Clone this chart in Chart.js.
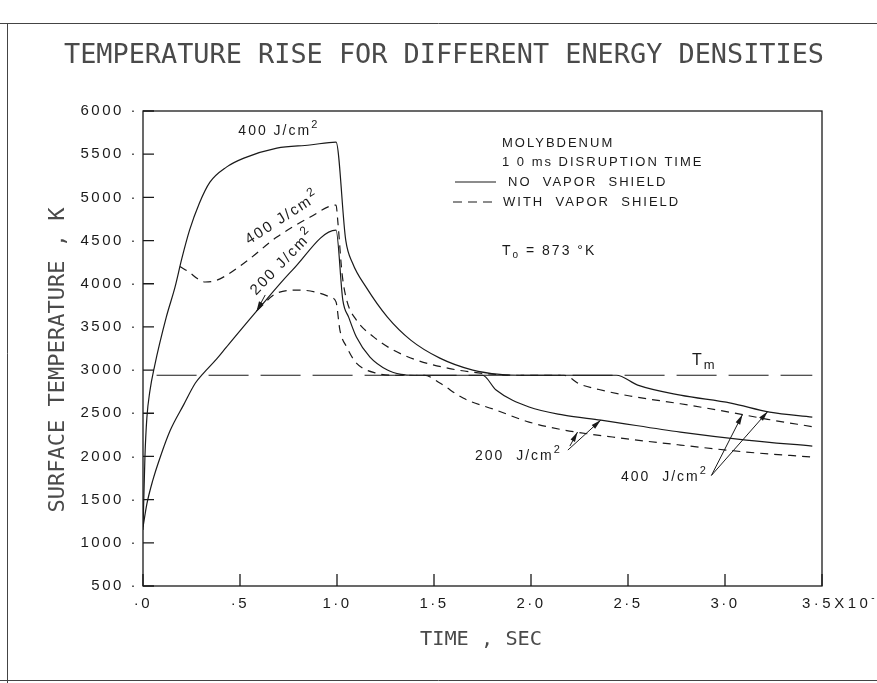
<!DOCTYPE html>
<html>
<head>
<meta charset="utf-8">
<title>Temperature rise for different energy densities</title>
<script src="https://cdn.jsdelivr.net/npm/chart.js@4.4.1/dist/chart.umd.min.js"></script>
<style>
  html, body { margin: 0; padding: 0; background: #fff; }
  #chart { display: block; }
</style>
</head>
<body>
<canvas id="chart" width="877" height="683"></canvas>
<script>
// time in units of 10^-2 s, surface temperature in K
const xTicks = [0, 0.5, 1.0, 1.5, 2.0, 2.5, 3.0, 3.5];
const xTickLabels = ["\u00b70", "\u00b75", "1\u00b70", "1\u00b75", "2\u00b70", "2\u00b75", "3\u00b70", ""];
const yTicks = [500, 1000, 1500, 2000, 2500, 3000, 3500, 4000, 4500, 5000, 5500, 6000];
const yTickLabels = ["500 \u00b7", "1000 \u00b7", "1500 \u00b7", "2000 \u00b7", "2500 \u00b7", "3000 \u00b7",
                     "3500 \u00b7", "4000 \u00b7", "4500 \u00b7", "5000 \u00b7", "5500 \u00b7", "6000 \u00b7"];

// 400 J/cm2, no vapor shield
const time400 = [0, 0.01, 0.02, 0.035, 0.06, 0.12, 0.165, 0.2, 0.24, 0.29, 0.345, 0.43, 0.52, 0.69, 0.86, 0.995,
                 1.045, 1.08, 1.15, 1.26, 1.38, 1.53, 1.70, 1.84, 1.95, 2.44, 2.55, 2.77, 3.03, 3.23, 3.45];
const temp400 = [1150, 2000, 2450, 2750, 3050, 3613, 3960, 4290, 4620, 4930, 5176, 5350, 5454, 5570, 5606, 5640,
                 4505, 4240, 3960, 3613, 3347, 3139, 3000, 2950, 2940, 2940, 2826, 2710, 2618, 2514, 2456];

// 200 J/cm2, no vapor shield
const time200 = [0, 0.02, 0.05, 0.09, 0.14, 0.21, 0.27, 0.31, 0.38, 0.43, 0.59, 0.77, 0.995, 1.03, 1.06, 1.10,
                 1.17, 1.26, 1.33, 1.40, 1.75, 1.82, 1.99, 2.17, 2.36, 2.77, 3.11, 3.45];
const temp200 = [1180, 1450, 1720, 2000, 2300, 2600, 2850, 2960, 3130, 3266, 3694, 4157, 4620, 3810, 3613, 3382,
                 3150, 3000, 2950, 2940, 2940, 2769, 2572, 2479, 2421, 2282, 2190, 2120];

// 400 J/cm2, with vapor shield
const time400v = [0.19, 0.24, 0.28, 0.32, 0.38, 0.52, 0.69, 0.86, 0.995, 1.005, 1.026, 1.05, 1.10, 1.19,
                  1.29, 1.41, 1.57, 1.70, 1.85, 1.95, 2.17, 2.25, 2.35, 2.51, 2.77, 3.03, 3.22, 3.45];
const temp400v = [4200, 4130, 4060, 4020, 4040, 4237, 4540, 4770, 4910, 4700, 4120, 3810, 3579, 3382,
                  3232, 3116, 3023, 2975, 2945, 2940, 2940, 2840, 2775, 2700, 2610, 2510, 2430, 2345];

// 200 J/cm2, with vapor shield
const time200v = [0.59, 0.69, 0.81, 0.91, 0.97, 0.995, 1.015, 1.05, 1.10, 1.21, 1.3, 1.45, 1.53, 1.65,
                  1.82, 1.99, 2.17, 2.42, 2.77, 3.11, 3.45];
const temp200v = [3694, 3891, 3926, 3891, 3840, 3790, 3463, 3266, 3081, 2960, 2940, 2940, 2850, 2676,
                  2537, 2398, 2306, 2225, 2132, 2051, 1993];

// melting temperature of molybdenum
const meltTime = [0.07, 3.45];
const meltTemp = [2940, 2940];

const INK = "#1a1a1a";
const LABEL_FONT = '"Liberation Sans", Arial, sans-serif';
const PLOT_FONT = '"DejaVu Sans Mono", monospace';

const toPoints = (ts, vs) => ts.map((t, i) => ({ x: t, y: vs[i] }));

// value of a series at time t (linear between readings)
function valueAt(ts, vs, t) {
  for (let i = 1; i < ts.length; i++) {
    if (t <= ts[i]) {
      const f = (t - ts[i - 1]) / (ts[i] - ts[i - 1]);
      return vs[i - 1] + f * (vs[i] - vs[i - 1]);
    }
  }
  return vs[vs.length - 1];
}

function curve(ts, vs, dashed) {
  return {
    data: toPoints(ts, vs),
    borderColor: INK,
    borderWidth: 1.2,
    borderDash: dashed ? [8, 6] : [],
    pointRadius: 0,
    cubicInterpolationMode: "monotone",
    fill: false
  };
}

// text made of pieces: [text, size, raise]
function richText(ctx, x, y, parts, align) {
  let w = 0;
  parts.forEach(p => {
    ctx.font = p[1] + "px " + LABEL_FONT;
    w += ctx.measureText(p[0]).width;
  });
  let cx = align === "center" ? x - w / 2 : align === "right" ? x - w : x;
  ctx.textAlign = "left";
  ctx.textBaseline = "middle";
  parts.forEach(p => {
    ctx.font = p[1] + "px " + LABEL_FONT;
    ctx.fillText(p[0], cx, y - (p[2] || 0));
    cx += ctx.measureText(p[0]).width;
  });
}

// plotter style text squeezed or stretched to a given length
function fitText(ctx, text, cx, cy, width, size, angle) {
  ctx.save();
  ctx.letterSpacing = "0px";
  ctx.font = size + "px " + PLOT_FONT;
  const w = ctx.measureText(text).width;
  ctx.translate(cx, cy);
  if (angle) ctx.rotate(angle);
  ctx.scale(width / w, 1);
  ctx.textAlign = "center";
  ctx.textBaseline = "middle";
  ctx.fillStyle = "#4a4a4a";
  ctx.fillText(text, 0, 0);
  ctx.restore();
}

function arrow(ctx, x1, y1, x2, y2) {
  const a = Math.atan2(y2 - y1, x2 - x1);
  ctx.beginPath();
  ctx.moveTo(x1, y1);
  ctx.lineTo(x2, y2);
  ctx.stroke();
  ctx.beginPath();
  ctx.moveTo(x2, y2);
  ctx.lineTo(x2 - 10 * Math.cos(a) + 2.5 * Math.sin(a), y2 - 10 * Math.sin(a) - 2.5 * Math.cos(a));
  ctx.lineTo(x2 - 10 * Math.cos(a) - 2.5 * Math.sin(a), y2 - 10 * Math.sin(a) + 2.5 * Math.cos(a));
  ctx.closePath();
  ctx.fill();
}

const plotterDecor = {
  id: "plotterDecor",
  beforeDraw(chart) {
    chart.ctx.letterSpacing = "2.5px";
  },
  afterDraw(chart) {
    const ctx = chart.ctx;
    const area = chart.chartArea;
    const xs = chart.scales.x, ys = chart.scales.y;
    const px = t => xs.getPixelForValue(t);
    const py = v => ys.getPixelForValue(v);

    ctx.save();
    ctx.letterSpacing = "0px";
    ctx.strokeStyle = INK;
    ctx.fillStyle = INK;

    // page border
    ctx.lineWidth = 1;
    ctx.strokeStyle = "#444";
    ctx.beginPath();
    ctx.moveTo(0, 23.5); ctx.lineTo(877, 23.5);
    ctx.moveTo(7.5, 23.5); ctx.lineTo(7.5, 683);
    ctx.moveTo(0, 680.5); ctx.lineTo(877, 680.5);
    ctx.stroke();

    // plot frame and inward ticks
    ctx.strokeStyle = INK;
    ctx.lineWidth = 1.3;
    ctx.strokeRect(area.left, area.top, area.right - area.left, area.bottom - area.top);
    ctx.beginPath();
    yTicks.forEach(v => {
      ctx.moveTo(area.left, py(v));
      ctx.lineTo(area.left + 11, py(v));
    });
    xTicks.forEach(t => {
      ctx.moveTo(px(t), area.bottom);
      ctx.lineTo(px(t), area.bottom - 12);
    });
    ctx.stroke();

    // last time label with the exponent
    ctx.letterSpacing = "3.5px";
    richText(ctx, px(3.5) - 20, area.bottom + 18,
      [["3\u00b75X10", 15], ["-2", 10, 6]], "left");

    // titles
    fitText(ctx, "TEMPERATURE RISE FOR DIFFERENT ENERGY DENSITIES", 444, 56, 760, 26);
    fitText(ctx, "SURFACE TEMPERATURE , K", 58, 360, 305, 22, -Math.PI / 2);
    fitText(ctx, "TIME , SEC", 481, 640, 122, 20);

    // curve labels
    ctx.letterSpacing = "2px";
    ctx.fillStyle = INK;
    richText(ctx, px(0.70), py(5770), [["400 J/cm", 14], ["2", 11, 6]], "center");

    ctx.save();
    ctx.translate(px(0.72), py(4760));
    ctx.rotate(-33 * Math.PI / 180);
    richText(ctx, 0, 0, [["400 J/cm", 15], ["2", 12, 6]], "center");
    ctx.restore();

    ctx.save();
    ctx.translate(px(0.72), py(4250));
    ctx.rotate(-46 * Math.PI / 180);
    richText(ctx, 0, 0, [["200 J/cm", 15], ["2", 12, 6]], "center");
    ctx.restore();

    // legend block
    richText(ctx, 502, 143, [["MOLYBDENUM", 13]], "left");
    richText(ctx, 502, 162, [["1 0 ms DISRUPTION TIME", 13]], "left");
    richText(ctx, 508, 182, [["NO  VAPOR  SHIELD", 13]], "left");
    richText(ctx, 503, 202, [["WITH  VAPOR  SHIELD", 13]], "left");
    richText(ctx, 502, 251, [["T", 14], ["o", 10, -4], [" = 873 \u00b0K", 14]], "left");
    richText(ctx, 692, 361, [["T", 16], ["m", 13, -4]], "left");

    ctx.lineWidth = 1.2;
    ctx.beginPath();
    ctx.moveTo(455, 182); ctx.lineTo(496, 182);
    ctx.stroke();
    ctx.setLineDash([9, 6]);
    ctx.beginPath();
    ctx.moveTo(453, 202); ctx.lineTo(497, 202);
    ctx.stroke();
    ctx.setLineDash([]);

    // labels with arrows to the cooling curves
    richText(ctx, 475, 456, [["200  J/cm", 14], ["2", 11, 6]], "left");
    richText(ctx, 621, 477, [["400  J/cm", 14], ["2", 11, 6]], "left");

    ctx.lineWidth = 1;
    const o200 = [px(2.19), py(2074)];
    arrow(ctx, o200[0], o200[1], px(2.36), py(valueAt(time200, temp200, 2.36)));
    arrow(ctx, o200[0] + 2, o200[1] - 4, px(2.24), py(valueAt(time200v, temp200v, 2.24)));
    const o400 = [px(2.93), py(1780)];
    arrow(ctx, o400[0], o400[1], px(3.09), py(valueAt(time400v, temp400v, 3.09)));
    arrow(ctx, o400[0], o400[1], px(3.22), py(valueAt(time400, temp400, 3.22)));

    // short pointer from the rising 200 J/cm2 label onto its curve
    arrow(ctx, px(0.63), py(3870), px(0.585), py(valueAt(time200, temp200, 0.585)));

    ctx.restore();
    ctx.letterSpacing = "0px";
  }
};

new Chart(document.getElementById("chart").getContext("2d"), {
  type: "line",
  data: {
    datasets: [
      {
        data: toPoints(meltTime, meltTemp),
        borderColor: INK,
        borderWidth: 1.2,
        borderDash: [40, 12],
        pointRadius: 0,
        fill: false
      },
      curve(time400, temp400, false),
      curve(time200, temp200, false),
      curve(time400v, temp400v, true),
      curve(time200v, temp200v, true)
    ]
  },
  options: {
    responsive: false,
    animation: false,
    events: [],
    layout: { padding: { left: 0, top: 111, right: 55, bottom: 0 } },
    plugins: { legend: { display: false }, tooltip: { enabled: false } },
    scales: {
      x: {
        type: "linear",
        min: xTicks[0],
        max: xTicks[xTicks.length - 1],
        afterBuildTicks: s => { s.ticks = xTicks.map(v => ({ value: v })); },
        afterFit: s => { s.height = 97; },
        grid: { display: false, drawTicks: false },
        border: { display: false },
        ticks: {
          autoSkip: false,
          maxRotation: 0,
          padding: 9,
          color: INK,
          font: { family: LABEL_FONT, size: 15 },
          callback: (v, i) => xTickLabels[i]
        }
      },
      y: {
        type: "linear",
        min: yTicks[0],
        max: yTicks[yTicks.length - 1],
        afterBuildTicks: s => { s.ticks = yTicks.map(v => ({ value: v })); },
        afterFit: s => { s.width = 143; },
        grid: { display: false, drawTicks: false },
        border: { display: false },
        ticks: {
          autoSkip: false,
          padding: 5,
          color: INK,
          font: { family: LABEL_FONT, size: 15 },
          callback: (v, i) => yTickLabels[i]
        }
      }
    }
  },
  plugins: [plotterDecor]
});
</script>
</body>
</html>
